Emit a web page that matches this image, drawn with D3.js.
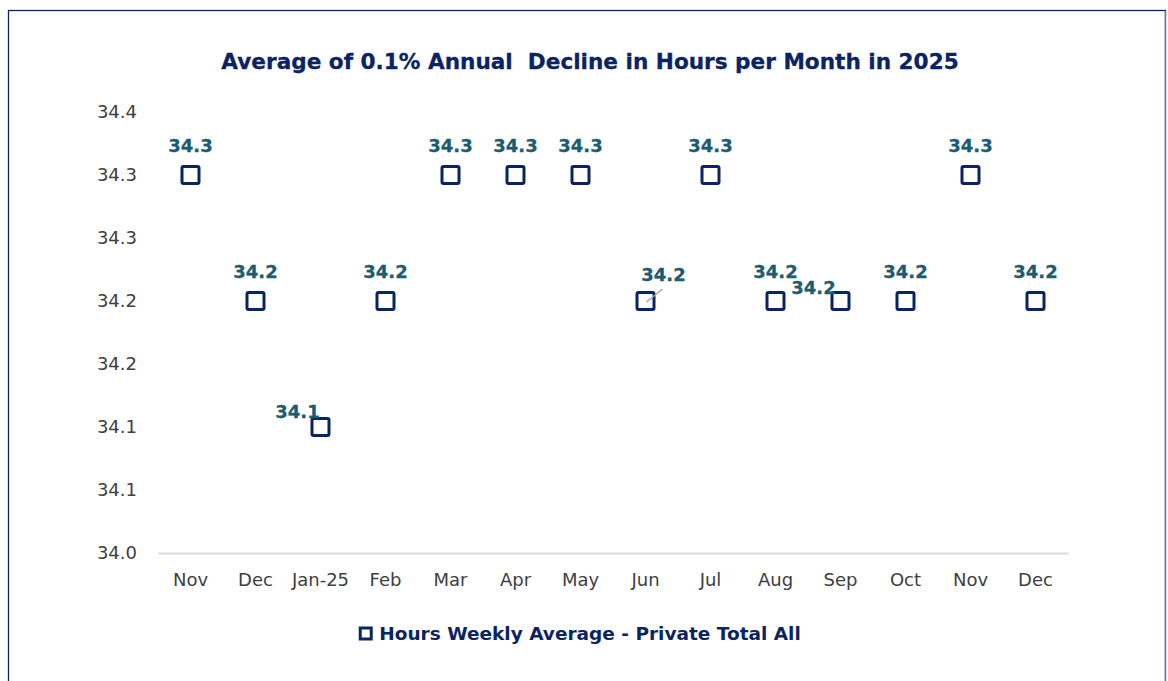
<!DOCTYPE html>
<html>
<head>
<meta charset="utf-8">
<script src="https://cdn.jsdelivr.net/npm/d3@7"></script>
<style>
  body { margin: 0; background: #fff; }
  svg { display: block; font-family: "DejaVu Sans", Verdana, sans-serif; }
</style>
</head>
<body>
<svg id="chart" width="1168" height="681"></svg>
<script>
const months = ["Nov", "Dec", "Jan-25", "Feb", "Mar", "Apr", "May", "Jun", "Jul", "Aug", "Sep", "Oct", "Nov", "Dec"];
const hours = [34.3, 34.2, 34.1, 34.2, 34.3, 34.3, 34.3, 34.2, 34.3, 34.2, 34.2, 34.2, 34.3, 34.2];
const yTicks = [34.0, 34.05, 34.1, 34.15, 34.2, 34.25, 34.3, 34.35];
const seriesName = "Hours Weekly Average - Private Total All";
const title = "Average of 0.1% Annual  Decline in Hours per Month in 2025";

const width = 1168, height = 681;
const margin = { top: 112, right: 100, bottom: 128, left: 158 };
const navy = "#0a2463";
const teal = "#1d5c70";

// excel style half-up rounding to one decimal
const fmt1 = d => (Math.round(d * 10 + 1e-9) / 10).toFixed(1);

const svg = d3.select("#chart");

// chart frame
svg.append("rect")
  .attr("x", 8.5).attr("y", 10.5)
  .attr("width", 1157).attr("height", 700)
  .attr("fill", "none").attr("stroke", navy).attr("stroke-width", 1.3);
svg.append("line")
  .attr("x1", 1165).attr("x2", 1165).attr("y1", 11).attr("y2", height)
  .attr("stroke", "#a3abbd").attr("stroke-width", 1.3);

svg.append("text")
  .attr("x", 590).attr("y", 69)
  .attr("text-anchor", "middle")
  .attr("font-size", 21.6).attr("font-weight", "bold")
  .attr("fill", navy)
  .attr("stroke", navy).attr("stroke-width", 0.3)
  .style("white-space", "pre")
  .text(title);

const x = d3.scaleBand()
  .domain(d3.range(months.length))
  .range([margin.left, width - margin.right]);

const y = d3.scaleLinear()
  .domain([34.0, 34.35])
  .range([height - margin.bottom, margin.top]);

// y axis
const yAxis = svg.append("g")
  .attr("transform", `translate(${margin.left - 18},0)`)
  .call(d3.axisLeft(y).tickValues(yTicks).tickSize(0).tickFormat(fmt1));
yAxis.select(".domain").remove();
yAxis.selectAll("text")
  .attr("font-size", 18).attr("fill", "#404040")
  .attr("font-family", "DejaVu Sans, Verdana, sans-serif");

// x axis
const xAxis = svg.append("g")
  .attr("transform", `translate(0,${height - margin.bottom})`)
  .call(d3.axisBottom(x).tickSize(0).tickFormat(i => months[i]));
xAxis.select(".domain").attr("stroke", "#d9d9d9").attr("stroke-width", 2);
xAxis.selectAll("text")
  .attr("y", 33).attr("dy", 0)
  .attr("font-size", 18).attr("fill", "#404040")
  .attr("font-family", "DejaVu Sans, Verdana, sans-serif");

const cx = i => x(i) + x.bandwidth() / 2;
const msize = 17;

// markers
svg.append("g").selectAll("rect")
  .data(hours)
  .join("rect")
  .attr("x", (d, i) => cx(i) - msize / 2)
  .attr("y", d => y(d) - msize / 2)
  .attr("width", msize).attr("height", msize)
  .attr("rx", 1.5)
  .attr("fill", "#fff").attr("stroke", navy).attr("stroke-width", 3);

// label nudges where the labels were moved off their default spot
const nudge = { 2: [-23, 14], 7: [18, 3], 10: [-27, 16] };

// leader line for the dragged Jun label
svg.append("line")
  .attr("x1", cx(7) + 1).attr("y1", y(hours[7]) + 1)
  .attr("x2", cx(7) + 17).attr("y2", y(hours[7]) - 12)
  .attr("stroke", "#a6a6a6").attr("stroke-width", 1.5);

svg.append("g").selectAll("text")
  .data(hours)
  .join("text")
  .attr("x", (d, i) => cx(i) + (nudge[i] ? nudge[i][0] : 0))
  .attr("y", (d, i) => y(d) - 23 + (nudge[i] ? nudge[i][1] : 0))
  .attr("text-anchor", "middle")
  .attr("font-size", 18).attr("font-weight", "bold")
  .attr("fill", teal)
  .attr("stroke", teal).attr("stroke-width", 0.3)
  .text(fmt1);

// legend
const legend = svg.append("g").attr("transform", "translate(590,633)");
const legendText = legend.append("text")
  .attr("x", 0).attr("y", 6.5)
  .attr("text-anchor", "middle")
  .attr("font-size", 18.5).attr("font-weight", "bold")
  .attr("fill", navy)
  .text(seriesName);
const bb = legendText.node().getBBox();
legend.append("rect")
  .attr("x", bb.x - 19).attr("y", -5)
  .attr("width", 11).attr("height", 11)
  .attr("fill", "#fff").attr("stroke", navy).attr("stroke-width", 3);
</script>
</body>
</html>
